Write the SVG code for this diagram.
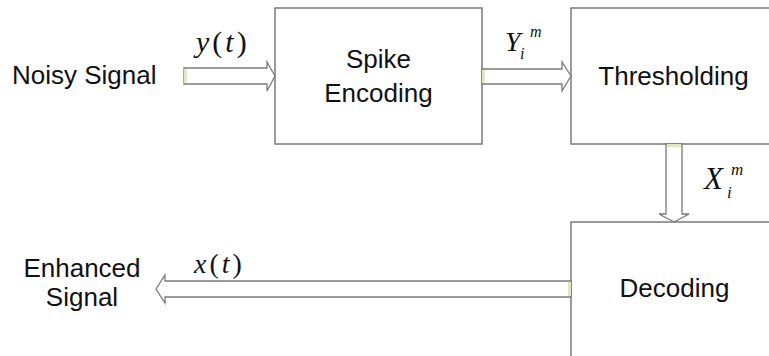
<svg xmlns="http://www.w3.org/2000/svg" width="769" height="356" viewBox="0 0 769 356">
<style>
.box{fill:#ffffff;stroke:#7a7a7a;stroke-width:1.5}
.lbl{font-family:"Liberation Sans",Arial,sans-serif;font-size:26px;fill:#111}
.mid{text-anchor:middle}
.arr{fill:#ffffff;stroke:#7a7a7a;stroke-width:1.3;stroke-linejoin:miter}
.tail{fill:#dfe8c8;stroke:none}
.math{font-family:"Liberation Serif","Times New Roman",serif;fill:#111}
.it{font-style:italic}
</style>
<rect width="769" height="356" fill="#ffffff"/>
<g id="noisy-signal">
<text class="lbl" x="12" y="84">Noisy Signal</text>
</g>
<g id="spike-encoding">
<rect class="box" x="275" y="8" width="207" height="136"/>
<text class="lbl mid" x="378.5" y="68">Spike</text>
<text class="lbl mid" x="378.5" y="102">Encoding</text>
</g>
<g id="thresholding">
<rect class="box" x="571" y="8" width="210" height="136"/>
<text class="lbl mid" x="673.5" y="85">Thresholding</text>
</g>
<g id="decoding">
<rect class="box" x="571" y="222" width="210" height="150"/>
<text class="lbl mid" x="674.5" y="297">Decoding</text>
</g>
<g id="enhanced-signal">
<text class="lbl mid" x="82" y="277">Enhanced</text>
<text class="lbl mid" x="82" y="306">Signal</text>
</g>
<g id="connectors">
<path class="arr" d="M184,68 L267,68 L267,62 L275,76 L267,91 L267,84 L184,84 Z"/>
<rect class="tail" x="184" y="69" width="3" height="14"/>
<path class="arr" d="M482,69 L562,69 L562,62 L571,76 L562,91 L562,84 L482,84 Z"/>
<rect class="tail" x="482" y="70" width="3" height="13"/>
<path class="arr" d="M666,144 L666,214 L659,214 L674,222 L689,214 L682,214 L682,144 Z"/>
<rect class="tail" x="667" y="144" width="14" height="3"/>
<path class="arr" d="M571,281 L165,281 L165,275 L156,289 L165,303 L165,297 L571,297 Z"/>
<rect class="tail" x="568" y="282" width="3" height="14"/>
<text class="math" x="196" y="52" font-size="30" letter-spacing="3"><tspan class="it">y</tspan>(<tspan class="it">t</tspan>)</text>
<text class="math it" x="505" y="51" font-size="28">Y</text>
<text class="math it" x="520" y="59" font-size="16">i</text>
<text class="math it" x="530" y="37" font-size="16">m</text>
<text class="math it" x="704" y="189" font-size="31">X</text>
<text class="math it" x="727" y="198" font-size="17">i</text>
<text class="math it" x="731" y="175" font-size="17">m</text>
<text class="math" x="194" y="273" font-size="28" letter-spacing="3"><tspan class="it">x</tspan>(<tspan class="it">t</tspan>)</text>
</g>
</svg>
